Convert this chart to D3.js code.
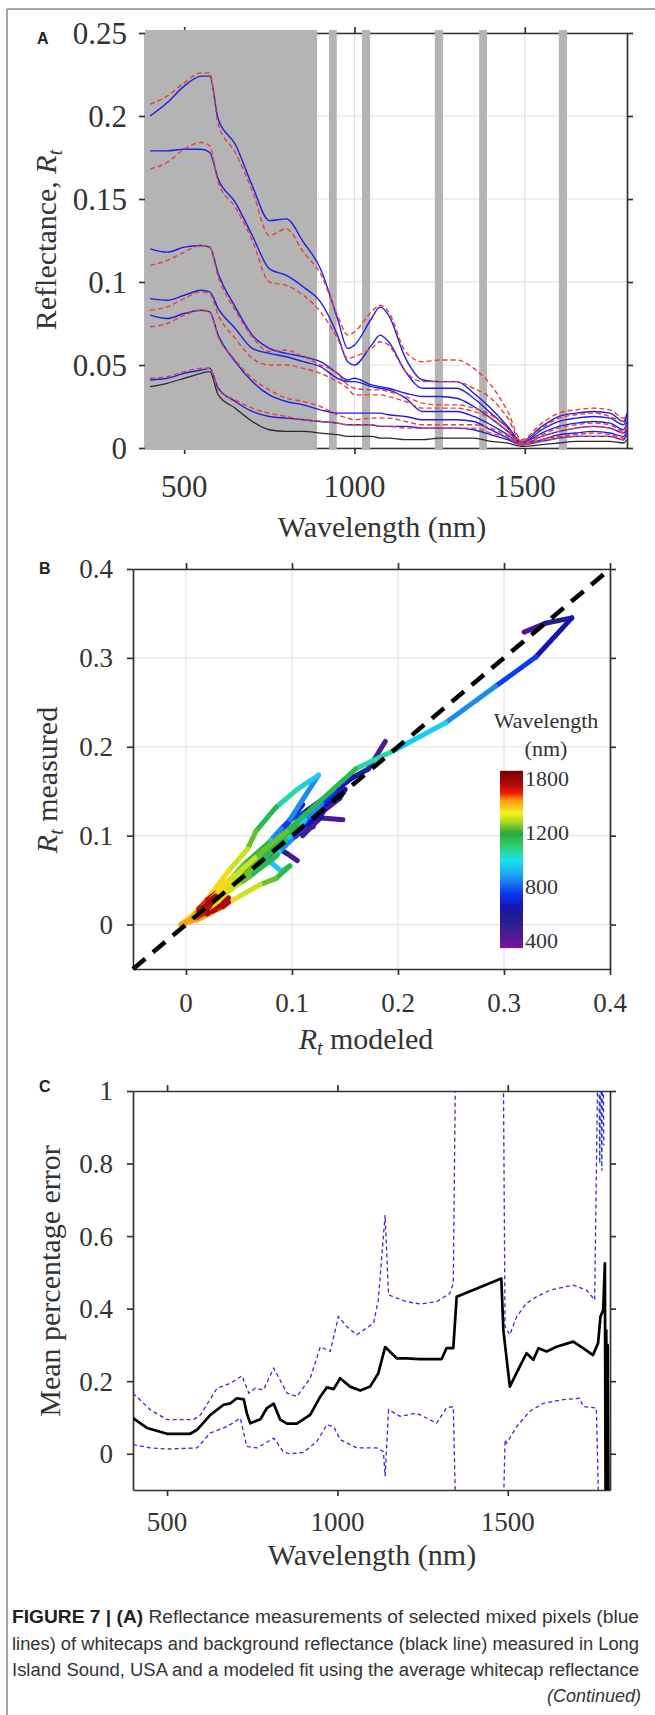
<!DOCTYPE html>
<html>
<head>
<meta charset="utf-8">
<script src="https://cdn.jsdelivr.net/npm/d3@7"></script>
<style>
body { margin: 0; background: #fff; }
svg text { font-family: "Liberation Serif", "Times New Roman", serif; fill: #333; }
svg text.cap { font-family: "Liberation Sans", Arial, sans-serif; fill: #333; }
svg text.tag { font-family: "Liberation Sans", Arial, sans-serif; font-weight: bold; fill: #222; }
</style>
</head>
<body>
<svg id="fig" width="655" height="1715"></svg>
<script>
// ---------- panel A: reflectance spectra ----------
const waveA = [400, 450, 500, 550, 575, 600, 650, 700, 750, 800, 850, 900, 950, 980, 1000, 1050, 1075, 1100, 1150, 1200, 1250, 1300, 1350, 1400, 1450, 1490, 1550, 1600, 1650, 1700, 1750, 1790, 1800];
const measured1 = [0.200, 0.208, 0.218, 0.224, 0.224, 0.198, 0.183, 0.158, 0.137, 0.138, 0.124, 0.108, 0.078, 0.060, 0.062, 0.078, 0.085, 0.080, 0.054, 0.041, 0.040, 0.040, 0.033, 0.024, 0.013, 0.004, 0.013, 0.019, 0.021, 0.022, 0.021, 0.016, 0.021];
const measured2 = [0.179, 0.179, 0.180, 0.180, 0.178, 0.162, 0.148, 0.128, 0.108, 0.104, 0.097, 0.088, 0.068, 0.052, 0.050, 0.062, 0.068, 0.064, 0.046, 0.036, 0.036, 0.036, 0.030, 0.021, 0.012, 0.003, 0.011, 0.016, 0.018, 0.019, 0.018, 0.014, 0.019];
const measured3 = [0.120, 0.118, 0.121, 0.122, 0.121, 0.105, 0.085, 0.068, 0.060, 0.057, 0.055, 0.052, 0.045, 0.041, 0.042, 0.038, 0.037, 0.036, 0.033, 0.031, 0.031, 0.030, 0.025, 0.018, 0.010, 0.003, 0.009, 0.013, 0.015, 0.016, 0.015, 0.011, 0.016];
const measured4 = [0.090, 0.089, 0.092, 0.095, 0.094, 0.084, 0.072, 0.060, 0.057, 0.055, 0.052, 0.049, 0.042, 0.040, 0.040, 0.037, 0.036, 0.035, 0.030, 0.022, 0.022, 0.022, 0.019, 0.014, 0.008, 0.002, 0.007, 0.010, 0.012, 0.013, 0.012, 0.009, 0.013];
const measured5 = [0.080, 0.078, 0.081, 0.083, 0.082, 0.068, 0.052, 0.040, 0.032, 0.028, 0.026, 0.023, 0.021, 0.021, 0.021, 0.021, 0.021, 0.020, 0.019, 0.017, 0.017, 0.017, 0.016, 0.011, 0.006, 0.002, 0.005, 0.008, 0.009, 0.010, 0.009, 0.007, 0.011];
const measured6 = [0.041, 0.042, 0.045, 0.047, 0.048, 0.036, 0.028, 0.022, 0.019, 0.018, 0.017, 0.016, 0.015, 0.014, 0.014, 0.014, 0.013, 0.013, 0.013, 0.012, 0.012, 0.012, 0.011, 0.008, 0.005, 0.002, 0.004, 0.006, 0.007, 0.007, 0.007, 0.005, 0.009];
const modeled1 = [0.207, 0.212, 0.220, 0.226, 0.226, 0.195, 0.178, 0.155, 0.128, 0.132, 0.118, 0.105, 0.080, 0.068, 0.070, 0.082, 0.086, 0.082, 0.058, 0.052, 0.053, 0.053, 0.048, 0.038, 0.022, 0.005, 0.015, 0.021, 0.023, 0.024, 0.023, 0.018, 0.020];
const modeled2 = [0.168, 0.172, 0.180, 0.184, 0.182, 0.160, 0.145, 0.125, 0.100, 0.098, 0.092, 0.082, 0.066, 0.054, 0.055, 0.060, 0.064, 0.062, 0.046, 0.040, 0.040, 0.040, 0.036, 0.030, 0.018, 0.004, 0.012, 0.018, 0.020, 0.021, 0.019, 0.016, 0.018];
const modeled3 = [0.110, 0.113, 0.118, 0.122, 0.121, 0.103, 0.083, 0.067, 0.058, 0.059, 0.055, 0.050, 0.045, 0.038, 0.036, 0.035, 0.035, 0.034, 0.031, 0.027, 0.026, 0.026, 0.024, 0.020, 0.012, 0.003, 0.008, 0.012, 0.014, 0.015, 0.014, 0.010, 0.014];
const modeled4 = [0.083, 0.085, 0.090, 0.094, 0.093, 0.080, 0.066, 0.054, 0.050, 0.050, 0.048, 0.045, 0.040, 0.036, 0.032, 0.032, 0.032, 0.031, 0.028, 0.024, 0.024, 0.024, 0.022, 0.018, 0.010, 0.002, 0.007, 0.010, 0.012, 0.013, 0.012, 0.009, 0.012];
const modeled5 = [0.073, 0.075, 0.080, 0.083, 0.082, 0.067, 0.053, 0.042, 0.035, 0.030, 0.028, 0.025, 0.020, 0.018, 0.017, 0.018, 0.018, 0.018, 0.016, 0.014, 0.014, 0.014, 0.014, 0.012, 0.007, 0.002, 0.005, 0.007, 0.008, 0.009, 0.008, 0.006, 0.009];
const modeled6 = [0.042, 0.043, 0.046, 0.048, 0.048, 0.035, 0.029, 0.024, 0.021, 0.019, 0.017, 0.016, 0.015, 0.014, 0.014, 0.014, 0.013, 0.013, 0.012, 0.012, 0.012, 0.012, 0.012, 0.009, 0.006, 0.002, 0.004, 0.006, 0.007, 0.007, 0.007, 0.005, 0.007];
const background = [0.037, 0.039, 0.042, 0.045, 0.046, 0.032, 0.024, 0.016, 0.011, 0.010, 0.010, 0.009, 0.008, 0.007, 0.007, 0.007, 0.006, 0.006, 0.005, 0.005, 0.006, 0.006, 0.006, 0.004, 0.003, 0.001, 0.002, 0.003, 0.004, 0.004, 0.004, 0.003, 0.005];
const bandStart = [385, 925, 1022, 1236, 1366, 1600];
const bandEnd = [890, 948, 1046, 1260, 1389, 1624];
const ticksAx = [500, 1000, 1500];
const ticksAy = [0, 0.05, 0.1, 0.15, 0.2, 0.25];

// ---------- panel B: measured vs modeled, coloured by wavelength ----------
const waveB = [400, 500, 600, 700, 800, 900, 1000, 1100, 1200, 1300, 1400, 1500, 1600, 1700, 1800];
const modB1 = [0.319, 0.339, 0.364, 0.330, 0.292, 0.245, 0.198, 0.160, 0.095, 0.065, 0.040, 0.005, 0.020, 0.028, 0.012];
const measB1 = [0.329, 0.339, 0.345, 0.301, 0.268, 0.227, 0.197, 0.175, 0.105, 0.075, 0.048, 0.006, 0.025, 0.032, 0.015];
const modB2 = [0.188, 0.172, 0.158, 0.140, 0.128, 0.112, 0.095, 0.105, 0.070, 0.052, 0.032, 0.004, 0.018, 0.024, 0.010];
const measB2 = [0.206, 0.175, 0.166, 0.150, 0.136, 0.118, 0.100, 0.112, 0.078, 0.060, 0.038, 0.005, 0.022, 0.028, 0.012];
const modB3 = [0.150, 0.140, 0.128, 0.110, 0.098, 0.125, 0.105, 0.085, 0.066, 0.058, 0.040, 0.008, 0.020, 0.028, 0.012];
const measB3 = [0.160, 0.150, 0.140, 0.125, 0.118, 0.168, 0.152, 0.132, 0.105, 0.085, 0.060, 0.010, 0.028, 0.035, 0.018];
const modB4 = [0.148, 0.128, 0.118, 0.105, 0.095, 0.085, 0.075, 0.082, 0.058, 0.048, 0.030, 0.004, 0.016, 0.020, 0.010];
const measB4 = [0.118, 0.120, 0.118, 0.110, 0.100, 0.090, 0.078, 0.085, 0.058, 0.048, 0.030, 0.004, 0.015, 0.020, 0.009];
const modB5 = [0.105, 0.095, 0.088, 0.080, 0.070, 0.062, 0.055, 0.065, 0.048, 0.042, 0.030, 0.004, 0.016, 0.020, 0.010];
const measB5 = [0.072, 0.080, 0.085, 0.080, 0.072, 0.066, 0.060, 0.068, 0.050, 0.040, 0.026, 0.003, 0.012, 0.016, 0.008];
const modB6 = [0.090, 0.100, 0.110, 0.100, 0.090, 0.080, 0.072, 0.078, 0.055, 0.045, 0.030, 0.004, 0.015, 0.020, 0.010];
const measB6 = [0.105, 0.120, 0.135, 0.120, 0.108, 0.095, 0.085, 0.092, 0.068, 0.055, 0.038, 0.005, 0.020, 0.025, 0.012];
const modB7 = [0.048, 0.055, 0.052, 0.042, 0.036, 0.030, 0.030, 0.036, 0.026, 0.024, 0.016, 0.000, 0.010, 0.014, 0.005];
const measB7 = [0.045, 0.052, 0.054, 0.046, 0.040, 0.034, 0.036, 0.042, 0.032, 0.030, 0.022, 0.002, 0.014, 0.018, 0.008];
const modB8 = [0.120, 0.112, 0.104, 0.092, 0.084, 0.076, 0.090, 0.098, 0.085, 0.070, 0.048, 0.010, 0.035, 0.040, 0.025];
const measB8 = [0.110, 0.108, 0.100, 0.090, 0.082, 0.074, 0.060, 0.066, 0.052, 0.045, 0.030, 0.005, 0.020, 0.025, 0.015];
const modB9 = [0.110, 0.125, 0.130, 0.112, 0.100, 0.088, 0.078, 0.086, 0.060, 0.050, 0.034, 0.004, 0.016, 0.022, 0.010];
const measB9 = [0.100, 0.118, 0.128, 0.110, 0.096, 0.082, 0.070, 0.078, 0.054, 0.046, 0.032, 0.004, 0.016, 0.020, 0.010];
const modB10 = [0.130, 0.145, 0.150, 0.128, 0.112, 0.098, 0.085, 0.094, 0.066, 0.054, 0.036, 0.005, 0.018, 0.024, 0.012];
const measB10 = [0.128, 0.142, 0.152, 0.132, 0.116, 0.100, 0.086, 0.096, 0.066, 0.054, 0.036, 0.005, 0.018, 0.024, 0.012];
const modB11 = [0.078, 0.092, 0.098, 0.085, 0.075, 0.066, 0.058, 0.066, 0.046, 0.038, 0.026, 0.003, 0.012, 0.016, 0.008];
const measB11 = [0.085, 0.100, 0.108, 0.094, 0.082, 0.072, 0.064, 0.072, 0.050, 0.042, 0.028, 0.004, 0.014, 0.018, 0.009];
const modB12 = [0.020, 0.028, 0.030, 0.024, 0.020, 0.016, 0.018, 0.022, 0.015, 0.014, 0.010, -0.005, 0.030, 0.040, 0.020];
const measB12 = [0.018, 0.026, 0.030, 0.026, 0.022, 0.018, 0.022, 0.026, 0.018, 0.018, 0.014, 0.000, 0.020, 0.030, 0.012];
const ticksB = [0, 0.1, 0.2, 0.3, 0.4];
const cbarWave = [340, 450, 550, 650, 750, 870, 990, 1090, 1190, 1320, 1410, 1550, 1630, 1720, 1880];
const cbarColors = ['#7a1496', '#4a1a96', '#20208a', '#1414b4', '#0a3cf0', '#1e9bf0', '#18e4f0', '#30d070', '#28a83c', '#b4dc1e', '#f8f020', '#ff9a10', '#f01e0a', '#b40a0a', '#780000'];
const cbarTicks = [400, 800, 1200, 1800];

// ---------- panel C: mean percentage error ----------
const waveMean = [400, 441, 500, 568, 588, 627, 666, 686, 705, 725, 734, 744, 774, 793, 813, 832, 852, 881, 920, 950, 969, 989, 1008, 1037, 1067, 1096, 1120, 1140, 1174, 1203, 1242, 1281, 1306, 1320, 1340, 1350, 1481, 1487, 1506, 1535, 1555, 1575, 1590, 1614, 1643, 1692, 1721, 1750, 1765, 1772, 1780, 1785, 1787, 1789, 1791, 1793, 1795];
const meanErr = [0.098, 0.071, 0.055, 0.055, 0.066, 0.107, 0.135, 0.139, 0.153, 0.150, 0.112, 0.084, 0.095, 0.126, 0.138, 0.094, 0.083, 0.083, 0.107, 0.158, 0.183, 0.178, 0.208, 0.185, 0.174, 0.185, 0.222, 0.294, 0.263, 0.263, 0.261, 0.261, 0.261, 0.291, 0.291, 0.433, 0.483, 0.341, 0.185, 0.240, 0.277, 0.259, 0.291, 0.282, 0.295, 0.309, 0.291, 0.272, 0.305, 0.378, 0.396, 0.525, -0.1, 0.34, -0.1, 0.30, -0.1];
const waveUpper = [400, 451, 500, 578, 598, 647, 686, 720, 740, 759, 783, 813, 852, 881, 920, 950, 979, 1003, 1028, 1057, 1106, 1120, 1140, 1150, 1203, 1242, 1291, 1330, 1340, 1348, 1486, 1492, 1506, 1526, 1555, 1585, 1624, 1692, 1731, 1755, 1766, 1770, 1773, 1776, 1779, 1782];
const upperErr = [0.167, 0.121, 0.094, 0.094, 0.107, 0.181, 0.194, 0.215, 0.167, 0.181, 0.176, 0.236, 0.167, 0.158, 0.208, 0.295, 0.282, 0.378, 0.350, 0.328, 0.360, 0.424, 0.658, 0.438, 0.419, 0.413, 0.419, 0.442, 0.470, 1.2, 1.2, 0.350, 0.328, 0.378, 0.415, 0.433, 0.451, 0.465, 0.451, 0.424, 1.2, 0.80, 1.2, 0.78, 1.2, 0.85];
const waveLower = [400, 451, 500, 588, 627, 676, 715, 734, 764, 813, 842, 862, 901, 940, 969, 989, 1008, 1057, 1115, 1135, 1140, 1150, 1184, 1232, 1271, 1291, 1320, 1340, 1348, 1486, 1492, 1497, 1526, 1565, 1604, 1663, 1711, 1721, 1760, 1768];
const lowerErr = [0.025, 0.016, 0.013, 0.016, 0.057, 0.075, 0.098, 0.020, 0.016, 0.043, 0.004, 0.000, 0.004, 0.034, 0.080, 0.075, 0.039, 0.016, 0.016, 0.006, -0.062, 0.121, 0.103, 0.112, 0.094, 0.084, 0.126, 0.130, -0.2, -0.2, 0.039, 0.029, 0.075, 0.117, 0.139, 0.149, 0.153, 0.130, 0.126, -0.2];
const ticksCx = [500, 1000, 1500];
const ticksCy = [0, 0.2, 0.4, 0.6, 0.8, 1];

const captionLines = [
	['FIGURE 7 | (A)', ' Reflectance measurements of selected mixed pixels (blue'],
	['', 'lines) of whitecaps and background reflectance (black line) measured in Long'],
	['', 'Island Sound, USA and a modeled fit using the average whitecap reflectance']
];

const svg = d3.select('#fig');
const defs = svg.append('defs');

// page frame (left and top rule)
svg.append('line').attr('x1', 7).attr('y1', 9).attr('x2', 7).attr('y2', 1715)
	.style('stroke', '#888').style('stroke-width', 1.5);
svg.append('line').attr('x1', 7).attr('y1', 9).attr('x2', 655).attr('y2', 9)
	.style('stroke', '#888').style('stroke-width', 1.5);

function clipFor(id, x, y) {
	defs.append('clipPath').attr('id', id).append('rect')
		.attr('x', x.range()[0]).attr('y', y.range()[1])
		.attr('width', x.range()[1] - x.range()[0])
		.attr('height', y.range()[0] - y.range()[1]);
	return 'url(#' + id + ')';
}

function gridLines(g, x, y, xt, yt) {
	g.selectAll('.gx').data(xt).enter().append('line')
		.attr('x1', d => x(d)).attr('x2', d => x(d))
		.attr('y1', y.range()[0]).attr('y2', y.range()[1])
		.style('stroke', '#dedede').style('stroke-width', 1);
	g.selectAll('.gy').data(yt).enter().append('line')
		.attr('x1', x.range()[0]).attr('x2', x.range()[1])
		.attr('y1', d => y(d)).attr('y2', d => y(d))
		.style('stroke', '#dedede').style('stroke-width', 1);
}

function axesBox(g, x, y, xt, yt) {
	const x0 = x.range()[0], x1 = x.range()[1];
	const yb = y.range()[0], yt0 = y.range()[1];
	const axes = [
		[d3.axisBottom(x).tickValues(xt), 0, yb],
		[d3.axisTop(x).tickValues(xt), 0, yt0],
		[d3.axisLeft(y).tickValues(yt), x0, 0],
		[d3.axisRight(y).tickValues(yt), x1, 0]
	];
	axes.forEach(a => {
		const ag = g.append('g').attr('transform', `translate(${a[1]},${a[2]})`)
			.call(a[0].tickSize(6).tickSizeOuter(0).tickFormat(''));
		ag.selectAll('path,line').style('stroke', '#333').style('stroke-width', 1.7);
	});
}

function tickLabels(g, x, y, xt, yt, size, xBase, yRight, fmt) {
	g.selectAll('.tlx').data(xt).enter().append('text')
		.attr('x', d => x(d)).attr('y', xBase)
		.style('font-size', size + 'px').style('text-anchor', 'middle')
		.text(d => fmt(d));
	g.selectAll('.tly').data(yt).enter().append('text')
		.attr('x', yRight).attr('y', d => y(d)).attr('dy', '0.35em')
		.style('font-size', size + 'px').style('text-anchor', 'end')
		.text(d => fmt(d));
}

const fmtNum = d => String(+d.toFixed(3));

// =============== Panel A ===============
const xA = d3.scaleLinear().domain([385, 1800]).range([145, 627]);
const yA = d3.scaleLinear().domain([0, 0.25]).range([448, 33]);
const gA = svg.append('g');
gridLines(gA, xA, yA, ticksAx, ticksAy);
axesBox(gA, xA, yA, ticksAx, ticksAy);

gA.selectAll('rect.band')
	.data(bandStart.map((s, i) => [s, bandEnd[i]]))
	.enter()
	.append('rect')
	.attr('x', d => xA(d[0]))
	.attr('width', d => xA(d[1]) - xA(d[0]))
	.attr('y', yA(0.25) - 3)
	.attr('height', yA(0) - yA(0.25) + 5)
	.style('fill', '#b4b4b4');

const clipA = clipFor('clipA', xA, yA);
const lineA = d3.line().x((d, i) => xA(waveA[i])).y(d => yA(d)).curve(d3.curveMonotoneX);
const gLinesA = gA.append('g').attr('clip-path', clipA);
gLinesA.append('path').datum(background).attr('d', lineA)
	.style('fill', 'none').style('stroke', '#2a2a2a').style('stroke-width', 1.3);
[measured1, measured2, measured3, measured4, measured5, measured6].forEach(s => {
	gLinesA.append('path').datum(s).attr('d', lineA)
		.style('fill', 'none').style('stroke', '#1e1ee6').style('stroke-width', 1.4);
});
[modeled1, modeled2, modeled3, modeled4, modeled5, modeled6].forEach(s => {
	gLinesA.append('path').datum(s).attr('d', lineA)
		.style('fill', 'none').style('stroke', '#e8403a').style('stroke-width', 1.4)
		.style('stroke-dasharray', '5,3');
});

tickLabels(gA, xA, yA, ticksAx, ticksAy, 31, 497, 127, fmtNum);
gA.append('text').attr('x', 382).attr('y', 537)
	.style('font-size', '30px').style('text-anchor', 'middle').text('Wavelength (nm)');
const tA = gA.append('text').attr('transform', 'translate(56,240) rotate(-90)')
	.style('font-size', '30px').style('text-anchor', 'middle');
tA.append('tspan').text('Reflectance, ');
tA.append('tspan').style('font-style', 'italic').text('R');
tA.append('tspan').style('font-style', 'italic').style('font-size', '20px').attr('dy', 6).text('t');
svg.append('text').attr('class', 'tag').attr('x', 37).attr('y', 44).style('font-size', '16px').text('A');

// =============== Panel B ===============
const xB = d3.scaleLinear().domain([-0.05, 0.4]).range([133, 610]);
const yB = d3.scaleLinear().domain([-0.05, 0.4]).range([969, 569]);
const gB = svg.append('g');
gridLines(gB, xB, yB, ticksB, ticksB);
axesBox(gB, xB, yB, ticksB, ticksB);

const colorB = d3.scaleLinear().domain(cbarWave).range(cbarColors);
const clipB = clipFor('clipB', xB, yB);
const gSeg = gB.append('g').attr('clip-path', clipB);
const tracesB = [
	[modB8, measB8], [modB7, measB7], [modB12, measB12], [modB5, measB5], [modB11, measB11],
	[modB4, measB4], [modB9, measB9], [modB6, measB6], [modB10, measB10], [modB3, measB3],
	[modB2, measB2], [modB1, measB1]
];
tracesB.forEach(t => {
	const segs = d3.range(waveB.length - 1).map(i => ({
		x1: t[0][i], y1: t[1][i], x2: t[0][i + 1], y2: t[1][i + 1],
		w: (waveB[i] + waveB[i + 1]) / 2
	}));
	gSeg.selectAll(null).data(segs).enter().append('line')
		.attr('x1', d => xB(d.x1)).attr('y1', d => yB(d.y1))
		.attr('x2', d => xB(d.x2)).attr('y2', d => yB(d.y2))
		.style('stroke', d => colorB(d.w)).style('stroke-width', 5)
		.style('stroke-linecap', 'round');
});
gB.append('line')
	.attr('x1', xB(-0.05)).attr('y1', yB(-0.05)).attr('x2', xB(0.4)).attr('y2', yB(0.4))
	.style('stroke', '#000').style('stroke-width', 4.5).style('stroke-dasharray', '16,10');

// colorbar
const cbPos = d3.scaleLinear().domain(cbarTicks).range([940, 886, 832, 778]);
const cbLo = cbarWave[0], cbHi = cbarWave[cbarWave.length - 1];
const grad = defs.append('linearGradient').attr('id', 'cbar')
	.attr('gradientUnits', 'userSpaceOnUse')
	.attr('x1', 0).attr('x2', 0).attr('y1', cbPos(cbLo)).attr('y2', cbPos(cbHi));
grad.selectAll('stop').data(cbarWave).enter().append('stop')
	.attr('offset', d => (cbPos(d) - cbPos(cbLo)) / (cbPos(cbHi) - cbPos(cbLo)))
	.attr('stop-color', d => colorB(d));
gB.append('rect').attr('x', 500).attr('width', 23)
	.attr('y', cbPos(cbHi)).attr('height', cbPos(cbLo) - cbPos(cbHi))
	.style('fill', 'url(#cbar)');
gB.selectAll('.cbt').data(cbarTicks).enter().append('text')
	.attr('x', 525).attr('y', d => cbPos(d)).attr('dy', '0.35em')
	.style('font-size', '22px').text(d => d);
gB.append('text').attr('x', 546).attr('y', 728).style('font-size', '22px')
	.style('text-anchor', 'middle').text('Wavelength');
gB.append('text').attr('x', 546).attr('y', 756).style('font-size', '22px')
	.style('text-anchor', 'middle').text('(nm)');

tickLabels(gB, xB, yB, ticksB, ticksB, 27, 1012, 113, fmtNum);
const tBy = gB.append('text').attr('transform', 'translate(57,780) rotate(-90)')
	.style('font-size', '30px').style('text-anchor', 'middle');
tBy.append('tspan').style('font-style', 'italic').text('R');
tBy.append('tspan').style('font-style', 'italic').style('font-size', '20px').attr('dy', 6).text('t');
tBy.append('tspan').attr('dy', -6).text(' measured');
const tBx = gB.append('text').attr('x', 366).attr('y', 1049)
	.style('font-size', '30px').style('text-anchor', 'middle');
tBx.append('tspan').style('font-style', 'italic').text('R');
tBx.append('tspan').style('font-style', 'italic').style('font-size', '20px').attr('dy', 6).text('t');
tBx.append('tspan').attr('dy', -6).text(' modeled');
svg.append('text').attr('class', 'tag').attr('x', 39).attr('y', 574).style('font-size', '16px').text('B');

// =============== Panel C ===============
const xC = d3.scaleLinear().domain([400, 1800]).range([133, 610]);
const yC = d3.scaleLinear().domain([-0.1, 1]).range([1490, 1091]);
const gC = svg.append('g');
axesBox(gC, xC, yC, ticksCx, ticksCy);
const clipC = clipFor('clipC', xC, yC);
const gLinesC = gC.append('g').attr('clip-path', clipC);
const lineC = (w) => d3.line().x((d, i) => xC(w[i])).y(d => yC(d));
gLinesC.append('path').datum(upperErr).attr('d', lineC(waveUpper))
	.style('fill', 'none').style('stroke', '#3030d0').style('stroke-width', 1.3)
	.style('stroke-dasharray', '4,3');
gLinesC.append('path').datum(lowerErr).attr('d', lineC(waveLower))
	.style('fill', 'none').style('stroke', '#3030d0').style('stroke-width', 1.3)
	.style('stroke-dasharray', '4,3');
gLinesC.append('path').datum(meanErr).attr('d', lineC(waveMean))
	.style('fill', 'none').style('stroke', '#000').style('stroke-width', 2.7)
	.style('stroke-linejoin', 'round');

tickLabels(gC, xC, yC, ticksCx, ticksCy, 27, 1531, 113, fmtNum);
gC.append('text').attr('x', 372).attr('y', 1565)
	.style('font-size', '30px').style('text-anchor', 'middle').text('Wavelength (nm)');
gC.append('text').attr('transform', 'translate(60,1281) rotate(-90)')
	.style('font-size', '30px').style('text-anchor', 'middle').text('Mean percentage error');
svg.append('text').attr('class', 'tag').attr('x', 39).attr('y', 1092).style('font-size', '16px').text('C');

// =============== Caption ===============
captionLines.forEach((l, i) => {
	const t = svg.append('text').attr('class', 'cap')
		.attr('x', 12).attr('y', 1623 + i * 26.5)
		.attr('textLength', 627).attr('lengthAdjust', 'spacingAndGlyphs')
		.style('font-size', '18px');
	if (l[0]) t.append('tspan').style('font-weight', 'bold').style('fill', '#222').text(l[0]);
	t.append('tspan').text(l[1]);
});
svg.append('text').attr('class', 'cap').attr('x', 641).attr('y', 1702)
	.style('font-size', '18px').style('font-style', 'italic').style('text-anchor', 'end')
	.text('(Continued)');
</script>
</body>
</html>
